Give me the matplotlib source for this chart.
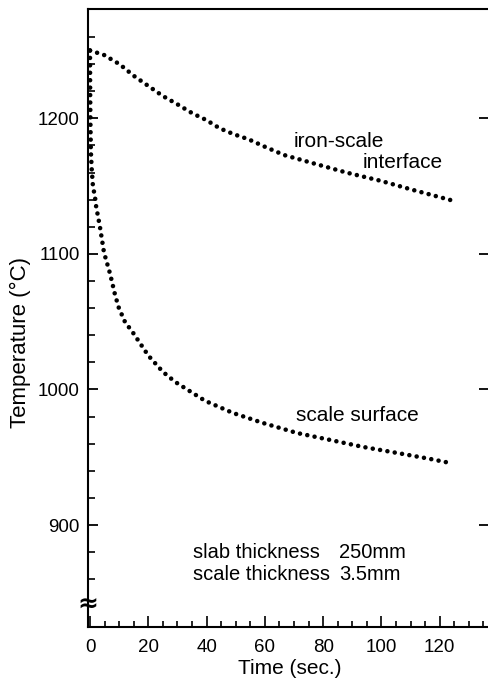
import matplotlib
matplotlib.use("Agg")
import matplotlib.pyplot as plt
from matplotlib.ticker import FixedLocator, MultipleLocator

plt.rcParams['font.family'] = ['Liberation Sans', 'DejaVu Sans']

# ---- data ----
t_interface = [0, 4.8, 10.2, 15.1, 19.9, 25.0, 30.0, 35.1, 39.9, 44.5, 49.4, 54.4,
               60.0, 66.6, 76.6, 88.1, 99.5, 110.9, 123.7]
T_interface = [1250, 1246.7, 1239.8, 1231.2, 1224.0, 1216.4, 1210.3, 1203.7, 1198.7,
               1192.6, 1188.2, 1184.5, 1179.0, 1172.9, 1166.8, 1159.9, 1154.0, 1147.1, 1139.7]

t_surface = [0, 0.05, 0.15, 0.3, 0.6, 1.0, 1.7, 2.1, 3.4, 4.8, 6.9, 8.6, 9.9, 12.0,
             14.8, 20.0, 25.0, 29.2, 39.5, 49.0, 59.3, 71.0, 82.3, 93.7, 105.3, 116.6, 123.5]
T_surface = [1250, 1220, 1195, 1175, 1162, 1150, 1142, 1135, 1120, 1101, 1085.2, 1069.7,
             1060.1, 1049.8, 1041.7, 1025, 1013, 1005.6, 991.6, 982.7, 975.3, 967.9,
             962.8, 957.6, 953.2, 948.8, 945.8]

x_major = [0, 20, 40, 60, 80, 100, 120]
y_major = [900, 1000, 1100, 1200]
y_minor = [860, 880, 920, 940, 960, 980, 1020, 1040, 1060, 1080,
           1120, 1140, 1160, 1180, 1220, 1240, 1260]

fig = plt.figure(figsize=(4.89, 6.79), dpi=100)
ax = fig.add_axes([88/489, 52/679, (489-88)/489, 618/679])

dot_style = dict(color='black', linewidth=3.3, linestyle=(0, (0.001, 1.62)),
                 dash_capstyle='round', solid_capstyle='round')
ax.plot(t_interface, T_interface, **dot_style)
ax.plot(t_surface, T_surface, **dot_style)

ax.set_xlim(-0.69, 136.9)
ax.set_ylim(824.8, 1280.6)

ax.spines['right'].set_visible(False)
for s in ['left', 'bottom', 'top']:
    ax.spines[s].set_linewidth(1.5)

ax.xaxis.set_major_locator(FixedLocator(x_major))
ax.xaxis.set_minor_locator(MultipleLocator(5))
ax.yaxis.set_major_locator(FixedLocator(y_major))
ax.yaxis.set_minor_locator(FixedLocator(y_minor))

ax.tick_params(axis='x', which='major', direction='in', length=8, width=1.2,
               labelsize=13.5, pad=9, top=False)
ax.tick_params(axis='x', which='minor', direction='in', length=4, width=1.2, top=False)
ax.tick_params(axis='y', which='major', direction='in', length=7, width=1.3,
               labelsize=13.5, pad=6, left=True, right=True)
ax.tick_params(axis='y', which='minor', direction='in', length=5, width=1.2,
               left=True, right=False)

fs = 15
ax.text(85.4, 1182.9, 'iron-scale', fontsize=fs, ha='center', va='center')
ax.text(107.2, 1167.4, 'interface', fontsize=fs, ha='center', va='center')
ax.text(91.8, 980.5, 'scale surface', fontsize=fs, ha='center', va='center')
fs2 = 14.5
ax.text(35.3, 879.5, 'slab thickness', fontsize=fs2, ha='left', va='center')
ax.text(85.6, 879.5, '250mm', fontsize=fs2, ha='left', va='center')
ax.text(35.3, 863.3, 'scale thickness', fontsize=fs2, ha='left', va='center')
ax.text(85.6, 863.3, '3.5mm', fontsize=fs2, ha='left', va='center')

# axis break symbol
ax.text(0.0, (627-605)/618, '≈', transform=ax.transAxes, fontsize=18,
        fontweight='bold', ha='center', va='center', clip_on=False,
        family='DejaVu Sans')

fig.text(290/489, 1-668/679, 'Time (sec.)', fontsize=fs, ha='center', va='center')
fig.text(20/489, 1-342/679, 'Temperature (°C)', fontsize=16, ha='center',
         va='center', rotation=90)

fig.savefig('out.png', dpi=100)
